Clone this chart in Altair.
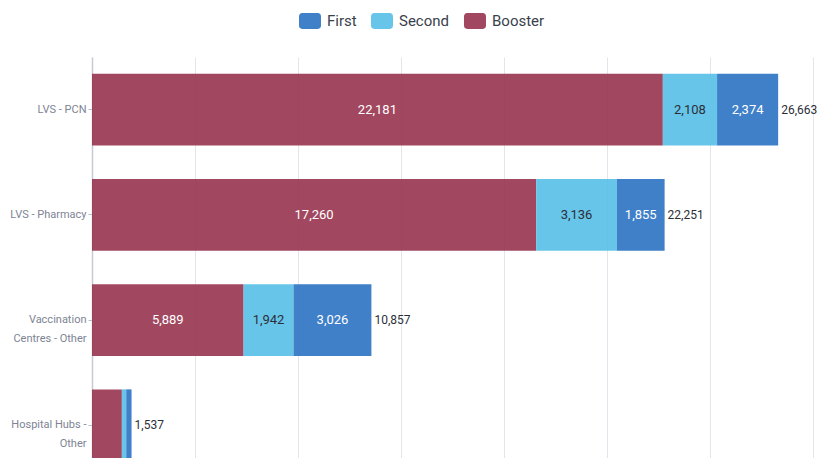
import altair as alt
import pandas as pd

categories = ["LVS - PCN", "LVS - Pharmacy", "Vaccination Centres - Other", "Hospital Hubs - Other"]
label_lines = [["LVS - PCN"], ["LVS - Pharmacy"], ["Vaccination", "Centres - Other"], ["Hospital Hubs -", "Other"]]
series = ["First", "Second", "Booster"]
colors = ["#2a72c2", "#57bfe8", "#97344f"]
text_colors = {"First": "#ffffff", "Second": "#2b2f38", "Booster": "#ffffff"}
first = [2374, 1855, 3026, 207]
second = [2108, 3136, 1942, 170]
booster = [22181, 17260, 5889, 1160]
x_ticks = [0, 4000, 8000, 12000, 16000, 20000, 24000, 28000]

FONT = "Roboto"

rows = []
stack_order = {"Booster": 0, "Second": 1, "First": 2}
values = {"First": first, "Second": second, "Booster": booster}
for i, c in enumerate(categories):
    start = 0
    for s in ["Booster", "Second", "First"]:
        v = values[s][i]
        rows.append({
            "cat": c, "series": s, "value": v, "order": stack_order[s],
            "start": start, "end": start + v, "mid": start + v / 2,
            "tcolor": text_colors[s], "show": bool(v >= 1500),
            "label": f"{v:,}",
        })
        start += v
df = pd.DataFrame(rows)
totals = pd.DataFrame({
    "cat": categories,
    "total": [f + s + b for f, s, b in zip(first, second, booster)],
})
totals["label"] = totals["total"].map(lambda v: f"{v:,}")

expr = "".join(
    f"datum.value == '{c}' ? {lines!r} : " for c, lines in zip(categories, label_lines)
) + "datum.value"

y_enc = alt.Y(
    "cat:N", sort=categories, title=None,
    scale=alt.Scale(paddingInner=0.316, paddingOuter=0.158),
    axis=alt.Axis(
        labelExpr=expr, labelFont=FONT, labelFontSize=11, labelColor="#7d8494",
        labelLimit=0, labelLineHeight=19, labelPadding=2,
        domainColor="#c5cad6", domainWidth=1.5, tickColor="#b8bdc9", tickSize=4,
        grid=False,
    ),
)
x_scale = alt.Scale(domain=[0, 28250], nice=False, zero=True)

bars = alt.Chart(df).mark_bar(opacity=0.9).encode(
    y=y_enc,
    x=alt.X("start:Q", scale=x_scale, title=None,
            axis=alt.Axis(values=x_ticks, labels=False, ticks=False, domain=False,
                          grid=True, gridColor="#e3e5ea", gridWidth=1)),
    x2="end:Q",
    color=alt.Color("series:N", scale=alt.Scale(domain=series, range=colors),
                    legend=alt.Legend(
                        title=None, orient="none", legendX=207, legendY=-47,
                        direction="horizontal",
                        symbolType="M-0.72,-0.72 H0.72 A0.28,0.28 0 0 1 1,-0.44 V0.44 A0.28,0.28 0 0 1 0.72,0.72 H-0.72 A0.28,0.28 0 0 1 -1,0.44 V-0.44 A0.28,0.28 0 0 1 -0.72,-0.72 Z",
                        symbolSize=484, symbolOpacity=0.9, symbolStrokeWidth=0,
                        labelFont=FONT, labelFontSize=15, labelColor="#3a3f4c",
                        labelOffset=6, columnPadding=14,
                    )),
)

inner = alt.Chart(df).transform_filter("datum.show").mark_text(
    font=FONT, fontSize=13, align="center", baseline="middle",
).encode(
    y=alt.Y("cat:N", sort=categories),
    x=alt.X("mid:Q", scale=x_scale),
    text="label:N",
    color=alt.Color("tcolor:N", scale=None),
)

tot = alt.Chart(totals).mark_text(
    font=FONT, fontSize=12, align="left", baseline="middle", dx=3, color="#2b2f38",
).encode(
    y=alt.Y("cat:N", sort=categories),
    x=alt.X("total:Q", scale=x_scale),
    text="label:N",
)

chart = alt.layer(bars, inner, tot).properties(
    width=727, height=421,
    autosize=alt.AutoSizeParams(type="none"),
    padding={"left": 84, "top": 49, "right": 0, "bottom": -20},
).configure_view(stroke=None)

chart.save("out.html", embed_options={"renderer": "svg", "actions": False})
